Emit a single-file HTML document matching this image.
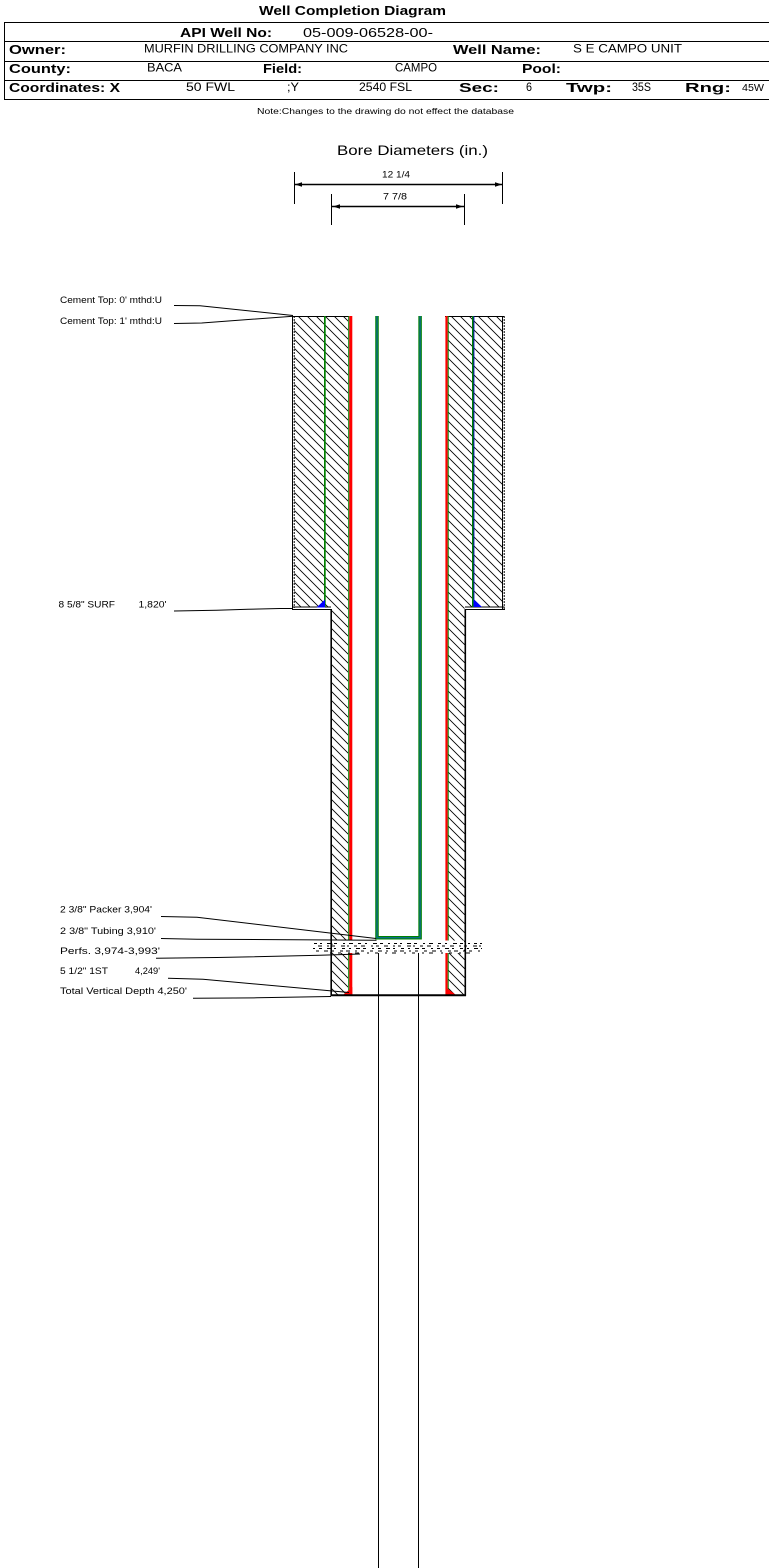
<!DOCTYPE html>
<html>
<head>
<meta charset="utf-8">
<style>
html,body{margin:0;padding:0;background:#fff;}
svg{display:block;}
text{font-family:"Liberation Sans",Arial,sans-serif;fill:#000;}
.b{font-weight:bold;font-size:13px;}
.r{font-size:12px;}
.s{font-size:9px;}
</style>
</head>
<body>
<svg width="769" height="1568" viewBox="0 0 769 1568" xmlns="http://www.w3.org/2000/svg">
<defs>
<pattern id="h" width="9" height="9" patternUnits="userSpaceOnUse">
<path d="M-2,-2 L11,11 M-2,7 L2,11 M7,-2 L11,2" stroke="#000" stroke-width="0.85" fill="none"/>
</pattern>
</defs>
<rect width="769" height="1568" fill="#fff"/>

<!-- Header -->
<text class="b" x="259" y="15" textLength="187" lengthAdjust="spacingAndGlyphs">Well Completion Diagram</text>
<g stroke="#000" stroke-width="1">
<line x1="4" y1="22.5" x2="769" y2="22.5"/>
<line x1="4" y1="41.5" x2="769" y2="41.5"/>
<line x1="4" y1="61.5" x2="769" y2="61.5"/>
<line x1="4" y1="80.5" x2="769" y2="80.5"/>
<line x1="4" y1="99.5" x2="769" y2="99.5"/>
<line x1="4.5" y1="22" x2="4.5" y2="100"/>
</g>
<text class="b" x="180" y="37" textLength="92" lengthAdjust="spacingAndGlyphs">API Well No:</text>
<text style="font-size:13px" x="303" y="37" textLength="130" lengthAdjust="spacingAndGlyphs">05-009-06528-00-</text>

<text class="b" x="9" y="54" textLength="57" lengthAdjust="spacingAndGlyphs">Owner:</text>
<text class="r" x="144" y="52.5" textLength="204" lengthAdjust="spacingAndGlyphs">MURFIN DRILLING COMPANY INC</text>
<text class="b" x="453" y="54" textLength="88" lengthAdjust="spacingAndGlyphs">Well Name:</text>
<text class="r" x="573" y="52.5" textLength="109" lengthAdjust="spacingAndGlyphs">S E CAMPO UNIT</text>

<text class="b" x="9" y="73" textLength="62" lengthAdjust="spacingAndGlyphs">County:</text>
<text class="r" x="147" y="71.5" textLength="35" lengthAdjust="spacingAndGlyphs">BACA</text>
<text class="b" x="263" y="73" textLength="39" lengthAdjust="spacingAndGlyphs">Field:</text>
<text class="r" x="395" y="71.5" textLength="42" lengthAdjust="spacingAndGlyphs">CAMPO</text>
<text class="b" x="522" y="73" textLength="39" lengthAdjust="spacingAndGlyphs">Pool:</text>

<text class="b" x="9" y="92" textLength="111" lengthAdjust="spacingAndGlyphs">Coordinates: X</text>
<text class="r" x="186" y="91" textLength="49" lengthAdjust="spacingAndGlyphs">50 FWL</text>
<text class="r" x="287" y="91" textLength="12" lengthAdjust="spacingAndGlyphs">;Y</text>
<text class="r" x="359" y="91" textLength="53" lengthAdjust="spacingAndGlyphs">2540 FSL</text>
<text class="b" x="459" y="92" textLength="40" lengthAdjust="spacingAndGlyphs">Sec:</text>
<text class="r" x="526" y="91" textLength="6" lengthAdjust="spacingAndGlyphs">6</text>
<text class="b" x="566" y="92" textLength="46" lengthAdjust="spacingAndGlyphs">Twp:</text>
<text class="r" x="632" y="91" textLength="19" lengthAdjust="spacingAndGlyphs">35S</text>
<text class="b" x="685" y="92" textLength="46" lengthAdjust="spacingAndGlyphs">Rng:</text>
<text style="font-size:10px" x="742" y="91" textLength="22" lengthAdjust="spacingAndGlyphs">45W</text>

<text style="font-size:8px" x="257" y="114" textLength="257" lengthAdjust="spacingAndGlyphs">Note:Changes to the drawing do not effect the database</text>

<!-- Bore diameters -->
<text style="font-size:14px" x="337" y="155" textLength="151" lengthAdjust="spacingAndGlyphs">Bore Diameters (in.)</text>
<g stroke="#000" stroke-width="1">
<line x1="294.5" y1="172" x2="294.5" y2="204"/>
<line x1="502.5" y1="172" x2="502.5" y2="204"/>
<line x1="331.5" y1="194" x2="331.5" y2="225"/>
<line x1="464.5" y1="194" x2="464.5" y2="225"/>
<line x1="294.5" y1="184.5" x2="502.5" y2="184.5" stroke-width="1.5"/>
<line x1="331.5" y1="206.5" x2="464.5" y2="206.5" stroke-width="1.5"/>
</g>
<g fill="#000">
<polygon points="295,184.5 302,182.3 302,186.7"/>
<polygon points="502,184.5 495,182.3 495,186.7"/>
<polygon points="333,206.5 340,204.3 340,208.7"/>
<polygon points="463,206.5 456,204.3 456,208.7"/>
</g>
<text class="s" x="382" y="177.5" textLength="28" lengthAdjust="spacingAndGlyphs">12 1/4</text>
<text class="s" x="383" y="199.5" textLength="24" lengthAdjust="spacingAndGlyphs">7 7/8</text>

<!-- Hatched cement -->
<rect x="294.5" y="316.5" width="53.5" height="290.5" fill="url(#h)"/>
<rect x="448.5" y="316.5" width="54" height="290.5" fill="url(#h)"/>
<rect x="332" y="607" width="16" height="388" fill="url(#h)"/>
<rect x="448.5" y="607" width="16" height="388" fill="url(#h)"/>

<!-- Top lines -->
<g stroke="#000" stroke-width="1">
<line x1="292" y1="316.5" x2="349" y2="316.5"/>
<line x1="445" y1="316.5" x2="504.5" y2="316.5"/>
<!-- ladder edges -->
<line x1="292.5" y1="316" x2="292.5" y2="610"/>
<line x1="294.2" y1="316" x2="294.2" y2="608" stroke-dasharray="2 1"/>
<line x1="502.5" y1="316" x2="502.5" y2="610"/>
<line x1="504.2" y1="316" x2="504.2" y2="610" stroke-dasharray="2 1"/>
<!-- shoe -->
<line x1="292" y1="607" x2="331" y2="607"/>
<line x1="292" y1="609.5" x2="332" y2="609.5"/>
<line x1="465" y1="607" x2="504.5" y2="607"/>
<line x1="464.5" y1="609.5" x2="505" y2="609.5"/>
</g>

<!-- Surface casing 8 5/8 -->
<rect x="324" y="316" width="1.7" height="291" fill="#008000"/>
<rect x="472" y="316" width="1.5" height="291" fill="#008000"/>
<rect x="473.5" y="316" width="0.9" height="291" fill="#0000c0"/>
<polygon points="316.5,607.5 325,607.5 325,599.5" fill="#0000ff"/>
<polygon points="473.5,599 473.5,607 482,607" fill="#0000ff"/>

<!-- Production casing 5 1/2 -->
<rect x="348.2" y="316" width="1.1" height="679" fill="#008000"/>
<rect x="349.3" y="316" width="3" height="679" fill="#ff0000"/>
<rect x="445.4" y="316" width="2.3" height="679" fill="#ff0000"/>
<rect x="447.7" y="316" width="1" height="679" fill="#008000"/>
<polygon points="343,995 352.3,995 352.3,987" fill="#ff0000"/>
<polygon points="445.5,987 445.5,995 456,995" fill="#ff0000"/>

<!-- Tubing -->
<path d="M377,316 L377,937.7 L420.1,937.7 L420.1,316" fill="none" stroke="#008000" stroke-width="3.5"/>
<path d="M377,316 L377,937.7 L420.1,937.7 L420.1,316" fill="none" stroke="#0a6e8a" stroke-width="1.4"/>

<!-- Perfs -->
<rect x="332.5" y="940.5" width="131.5" height="12.5" fill="#fff"/>
<g stroke="#000" stroke-width="1">
<line x1="314" y1="943.5" x2="482" y2="943.5" stroke-dasharray="3 3 2 5 4 3 3 6 2 4 4 5 3 4 2 6 4 3 3 5 2 4"/>
<line x1="318" y1="946" x2="481" y2="946" stroke-dasharray="4 5 2 3 3 6 4 2 2 5 3 4 4 6 2 3 3 5"/>
<line x1="313" y1="948.5" x2="482" y2="948.5" stroke-dasharray="2 4 3 5 4 3 2 6 3 4 2 5 4 3 3 6"/>
<line x1="316" y1="951" x2="480" y2="951" stroke-dasharray="3 5 4 4 2 6 3 3 4 5 2 4 3 6"/>
<line x1="330" y1="953" x2="470" y2="953" stroke-dasharray="2 6 3 7 2 5 4 8"/>
</g>

<!-- Lower hole outline -->
<g stroke="#000">
<line x1="331.2" y1="609" x2="331.2" y2="996" stroke-width="1.6"/>
<line x1="465.3" y1="609" x2="465.3" y2="996" stroke-width="1.6"/>
<line x1="330.5" y1="995.2" x2="466" y2="995.2" stroke-width="2"/>
<line x1="378.5" y1="953" x2="378.5" y2="1568" stroke-width="1"/>
<line x1="418.5" y1="953" x2="418.5" y2="1568" stroke-width="1"/>
</g>

<!-- Leaders -->
<g stroke="#000" stroke-width="1" fill="none">
<polyline points="174,305.5 200,305.8 293,315.5"/>
<polyline points="174,323.5 201.7,323 293,316.2"/>
<polyline points="174,611 216.7,610.3 248,609.3 280,608.5 293,608.5"/>
<polyline points="161,916.5 197,917.3 376,938.5"/>
<polyline points="161,938.5 197,939.2 376.5,940.2"/>
<polyline points="156,958.2 217,957.5 320,955.3 360,954"/>
<polyline points="168,978.3 203,979.3 349,992.5"/>
<polyline points="193,998.3 257,997.8 331,996.5"/>
</g>

<!-- Labels -->
<text class="s" x="60" y="303" textLength="102" lengthAdjust="spacingAndGlyphs">Cement Top: 0' mthd:U</text>
<text class="s" x="60" y="324" textLength="102" lengthAdjust="spacingAndGlyphs">Cement Top: 1' mthd:U</text>
<text class="s" x="58.5" y="607.7" textLength="56.5" lengthAdjust="spacingAndGlyphs">8 5/8" SURF</text>
<text class="s" x="138.5" y="607.7" textLength="28" lengthAdjust="spacingAndGlyphs">1,820'</text>
<text class="s" x="60" y="912.5" textLength="92" lengthAdjust="spacingAndGlyphs">2 3/8" Packer 3,904'</text>
<text class="s" x="60" y="934" textLength="96" lengthAdjust="spacingAndGlyphs">2 3/8" Tubing 3,910'</text>
<text class="s" x="60" y="954" textLength="100" lengthAdjust="spacingAndGlyphs">Perfs. 3,974-3,993'</text>
<text class="s" x="60" y="974" textLength="48" lengthAdjust="spacingAndGlyphs">5 1/2" 1ST</text>
<text class="s" x="135" y="974" textLength="25" lengthAdjust="spacingAndGlyphs">4,249'</text>
<text class="s" x="60" y="994" textLength="127" lengthAdjust="spacingAndGlyphs">Total Vertical Depth 4,250'</text>
</svg>
</body>
</html>
